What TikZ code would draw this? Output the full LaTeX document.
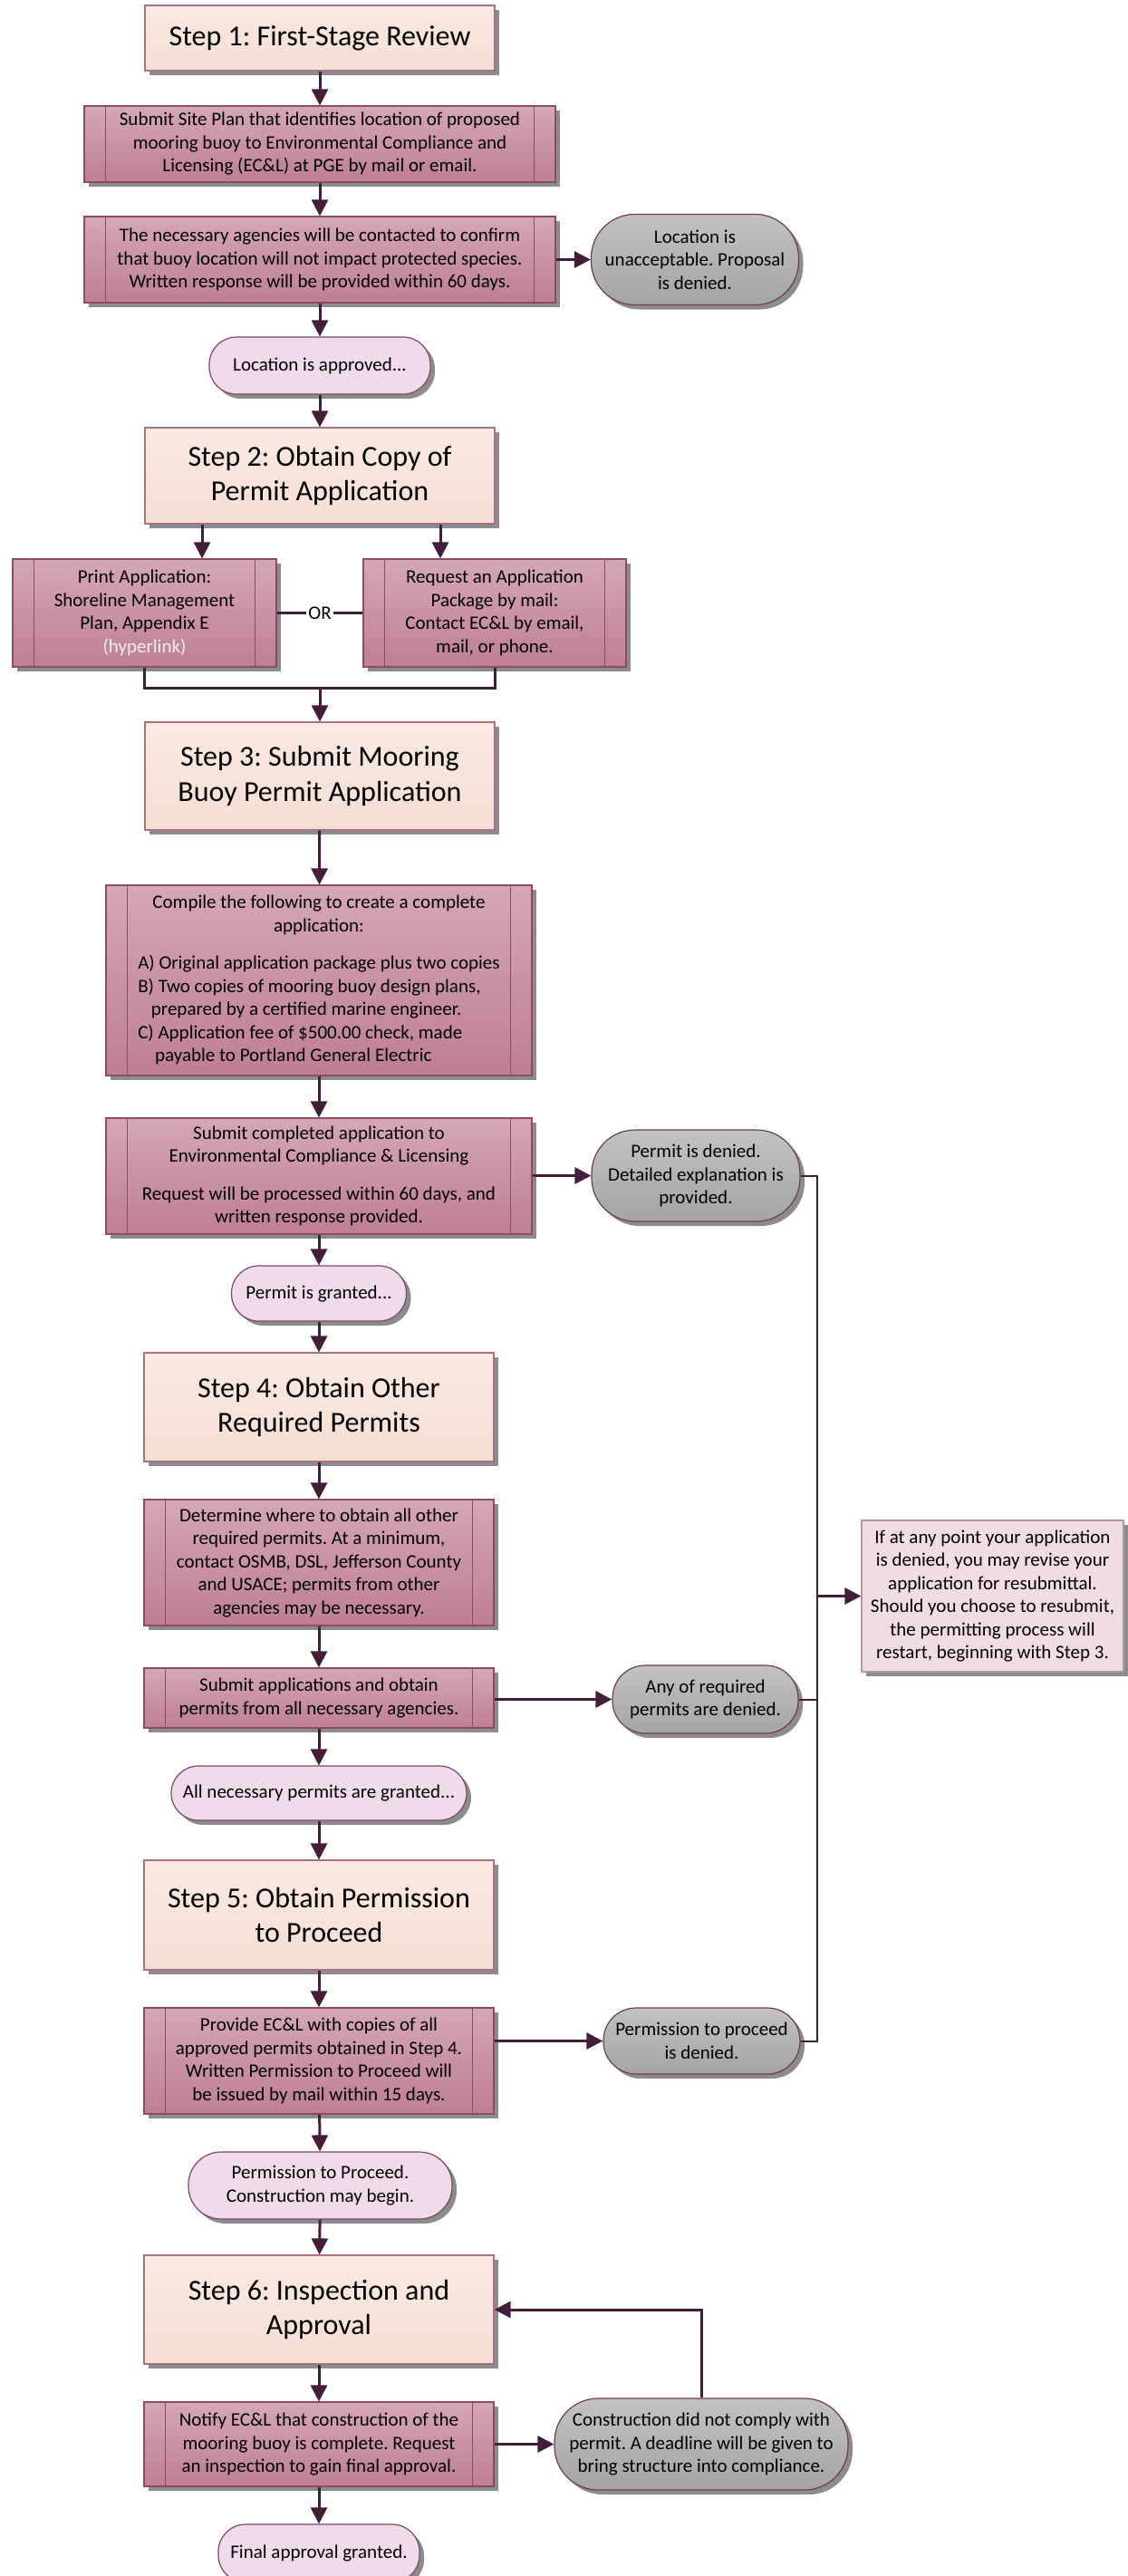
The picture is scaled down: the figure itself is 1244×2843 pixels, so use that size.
\documentclass[tikz,border=0pt]{standalone}
\usepackage{fontspec}
\setmainfont{Carlito}
\usepackage{tikz}
\usetikzlibrary{arrows.meta,shadows}
\frenchspacing
\definecolor{Wire}{RGB}{66,30,58}
\definecolor{StepTop}{RGB}{250,234,227}
\definecolor{StepBot}{RGB}{245,222,212}
\definecolor{StepLine}{RGB}{170,112,132}
\definecolor{ProcTop}{RGB}{213,167,182}
\definecolor{ProcBot}{RGB}{190,126,147}
\definecolor{ProcLine}{RGB}{140,76,100}
\definecolor{TermPink}{RGB}{239,219,233}
\definecolor{TermLine}{RGB}{122,72,102}
\definecolor{GrayTop}{RGB}{194,194,194}
\definecolor{GrayBot}{RGB}{164,164,164}
\definecolor{GrayLine}{RGB}{110,60,90}
\definecolor{NoteFill}{RGB}{239,220,228}
\definecolor{NoteLine}{RGB}{182,150,166}
\definecolor{LinkText}{RGB}{246,236,243}
\newcommand{\StepFont}{\fontsize{16pt}{19.3pt}\selectfont}
\newcommand{\BoxFont}{\fontsize{10.5pt}{12.75pt}\selectfont}
\newcommand{\SideBars}[1]{% inner lines of a process box
\draw[ProcLine,line width=0.5pt] ([xshift=12pt]#1.north west) -- ([xshift=12pt]#1.south west);
\draw[ProcLine,line width=0.5pt] ([xshift=-12pt]#1.north east) -- ([xshift=-12pt]#1.south east);
}

\begin{document}
\begin{tikzpicture}[x=0.5pt,y=-0.5pt,
  shade/.style={drop shadow={shadow xshift=2.5pt,shadow yshift=-2.5pt,fill=black!45,opacity=1}},
  stepbox/.style={shade,draw=StepLine,line width=0.6pt,top color=StepTop,bottom color=StepBot,
    minimum width=193pt,inner sep=0pt,align=center,font=\StepFont},
  procbox/.style={shade,draw=ProcLine,line width=0.6pt,top color=ProcTop,bottom color=ProcBot,
    inner sep=0pt,align=center,font=\BoxFont},
  okbox/.style={shade,draw=TermLine,line width=0.6pt,fill=TermPink,rounded corners=#1,
    inner sep=0pt,align=center,font=\BoxFont},
  nobox/.style={shade,draw=GrayLine,line width=0.6pt,top color=GrayTop,bottom color=GrayBot,
    rounded corners=#1,inner sep=0pt,align=center,font=\BoxFont},
  notebox/.style={shade,draw=NoteLine,line width=0.6pt,fill=NoteFill,inner sep=0pt,
    align=center,font=\BoxFont},
  link/.style={draw=Wire,line width=1.5pt},
  flow/.style={link,-{Triangle[length=9pt,width=9pt]}},
  bus/.style={draw=Wire,line width=1pt}]
\useasboundingbox (0,0) rectangle (1244,2843);

% step 1
\node[stepbox,minimum height=36pt] (step1) at (353,42) {Step 1: First-Stage Review};
\node[procbox,minimum width=260pt,minimum height=42pt] (site) at (353,159)
  {Submit Site Plan that identifies location of proposed\\ mooring buoy to Environmental Compliance and\\ Licensing (EC\&L) at PGE by mail or email.};
\node[procbox,minimum width=260pt,minimum height=47.5pt] (agency) at (353,286.5)
  {The necessary agencies will be contacted to confirm\\ that buoy location will not impact protected species.\\ Written response will be provided within 60 days.};
\node[nobox=24pt,minimum width=114.5pt,minimum height=50pt] (unacc) at (767,286.5)
  {Location is\\ unacceptable. Proposal\\ is denied.};
\node[okbox=15pt,minimum width=122pt,minimum height=31.5pt] (locok) at (353,403.5) {Location is approved...};

% step 2
\node[stepbox,minimum height=53pt] (step2) at (353,525) {Step 2: Obtain Copy of\\ Permit Application};
\node[procbox,minimum width=145.5pt,minimum height=59.5pt] (print) at (159.5,676.5)
  {Print Application:\\ Shoreline Management\\ Plan, Appendix E\\ {\color{LinkText}(hyperlink)}};
\node[procbox,minimum width=145pt,minimum height=59.5pt] (request) at (546,676.5)
  {Request an Application\\ Package by mail:\\ Contact EC\&L by email,\\ mail, or phone.};
\node[font=\BoxFont,inner sep=1pt] (or) at (353,676.5) {OR};
\coordinate (join) at (353,759);

% step 3
\node[stepbox,minimum height=59.5pt] (step3) at (353,856.5) {Step 3: Submit Mooring\\ Buoy Permit Application};
\node[procbox,minimum width=235pt,minimum height=105pt] (compile) at (352,1082)
  {\begin{tabular}{@{}l@{}}
   \multicolumn{1}{@{}c@{}}{Compile the following to create a complete}\\
   \multicolumn{1}{@{}c@{}}{application:}\\[8pt]
   A) Original application package plus two copies\\
   B) Two copies of mooring buoy design plans,\\
   \hspace*{0.7em}prepared by a certified marine engineer.\\
   C) Application fee of \$500.00 check, made\\
   \hspace*{0.9em}payable to Portland General Electric
   \end{tabular}};
\node[procbox,minimum width=235pt,minimum height=64pt] (submit) at (352,1298)
  {Submit completed application to\\ Environmental Compliance \& Licensing\\[8pt] Request will be processed within 60 days, and\\ written response provided.};
\node[nobox=24pt,minimum width=115pt,minimum height=50.5pt] (pdenied) at (768,1297.5)
  {Permit is denied.\\ Detailed explanation is\\ provided.};
\node[okbox=15pt,minimum width=96.5pt,minimum height=30.5pt] (pgranted) at (352,1427.5) {Permit is granted...};

% step 4
\node[stepbox,minimum height=60pt] (step4) at (352,1553) {Step 4: Obtain Other\\ Required Permits};
\node[procbox,minimum width=193pt,minimum height=69.5pt] (determine) at (352,1724.5)
  {Determine where to obtain all other\\ required permits. At a minimum,\\ contact OSMB, DSL, Jefferson County\\ and USACE; permits from other\\ agencies may be necessary.};
\node[procbox,minimum width=193pt,minimum height=33pt] (apps) at (352,1874)
  {Submit applications and obtain\\ permits from all necessary agencies.};
\node[nobox=18pt,minimum width=102.5pt,minimum height=37.5pt] (anydenied) at (778.5,1875.5)
  {Any of required\\ permits are denied.};
\node[okbox=15pt,minimum width=163pt,minimum height=30pt] (allgranted) at (352,1979) {All necessary permits are granted...};
\node[notebox,minimum width=144.5pt,minimum height=83.5pt] (resubmit) at (1095.5,1761.5)
  {If at any point your application\\ is denied, you may revise your\\ application for resubmittal.\\ Should you choose to resubmit,\\ the permitting process will\\ restart, beginning with Step 3.};
\coordinate (busjoin) at (902,1761.5);

% step 5
\node[stepbox,minimum height=60.5pt] (step5) at (352,2113.5) {Step 5: Obtain Permission\\ to Proceed};
\node[procbox,minimum width=193pt,minimum height=58.5pt] (provide) at (352,2274.5)
  {Provide EC\&L with copies of all\\ approved permits obtained in Step 4.\\ Written Permission to Proceed will\\ be issued by mail within 15 days.};
\node[nobox=18pt,minimum width=108.5pt,minimum height=36.5pt] (procdenied) at (774.5,2252.5)
  {Permission to proceed\\ is denied.};
\node[okbox=18pt,minimum width=145.5pt,minimum height=37pt] (proceedok) at (353.5,2412)
  {Permission to Proceed.\\ Construction may begin.};

% step 6
\node[stepbox,minimum height=60pt] (step6) at (352,2549) {Step 6: Inspection and\\ Approval};
\node[procbox,minimum width=193pt,minimum height=46.5pt] (notify) at (352,2697.5)
  {Notify EC\&L that construction of the\\ mooring buoy is complete. Request\\ an inspection to gain final approval.};
\node[nobox=24pt,minimum width=162pt,minimum height=50.5pt] (nocomply) at (774,2697.5)
  {Construction did not comply with\\ permit. A deadline will be given to\\ bring structure into compliance.};
\node[okbox=15pt,minimum width=111pt,minimum height=32pt] (final) at (352,2818) {Final approval granted.};

\SideBars{site}
\SideBars{agency}
\SideBars{print}
\SideBars{request}
\SideBars{compile}
\SideBars{submit}
\SideBars{determine}
\SideBars{apps}
\SideBars{provide}
\SideBars{notify}

% main column
\draw[flow] (step1) -- (site);
\draw[flow] (site) -- (agency);
\draw[flow] (agency) -- (unacc);
\draw[flow] (agency) -- (locok);
\draw[flow] (locok) -- (step2);
\draw[flow] ([xshift=-65pt]step2.south) -- ([xshift=-65pt]step2.south |- print.north);
\draw[flow] ([xshift=66.5pt]step2.south) -- ([xshift=66.5pt]step2.south |- request.north);
\draw[link] (print) -- (or) -- (request);
\draw[link] (print.south) |- (join) -| (request.south);
\draw[flow] (join) -- (step3);
\draw[flow] (step3) -- (compile);
\draw[flow] (compile) -- (submit);
\draw[flow] (submit.east |- pdenied) -- (pdenied);
\draw[flow] (submit) -- (pgranted);
\draw[flow] (pgranted) -- (step4);
\draw[flow] (step4) -- (determine);
\draw[flow] (determine) -- (apps);
\draw[flow] (apps.east |- anydenied) -- (anydenied);
\draw[flow] (apps) -- (allgranted);
\draw[flow] (allgranted) -- (step5);
\draw[flow] (step5) -- (provide);
\draw[flow] (provide.east |- procdenied) -- (procdenied);
\draw[flow] (provide) -- (proceedok);
\draw[flow] (proceedok) -- (step6);
\draw[flow] (step6) -- (notify);
\draw[flow] (notify) -- (nocomply);
\draw[flow] (notify) -- (final);

% denials back to resubmittal note
\draw[bus] (pdenied.east) -| (busjoin);
\draw[bus] (anydenied.east) -| (busjoin);
\draw[bus] (procdenied.east) -| (busjoin);
\draw[flow] (busjoin) -- (resubmit);
\draw[flow] (nocomply.north) |- (step6.east);
\end{tikzpicture}
\end{document}
